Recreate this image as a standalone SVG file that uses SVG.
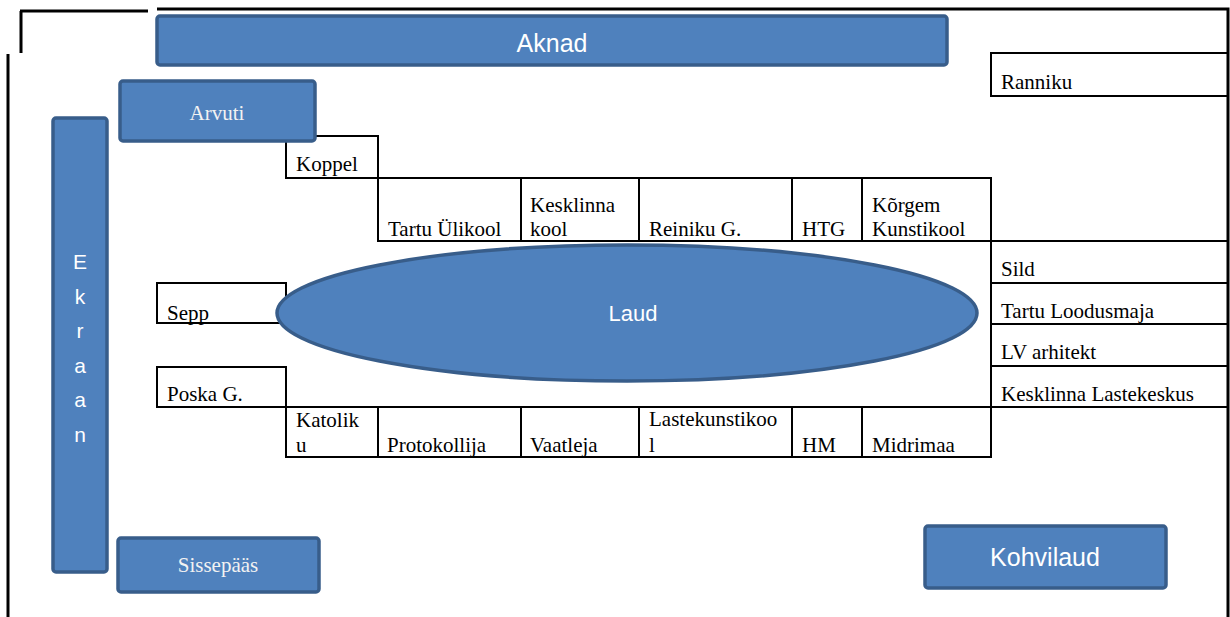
<svg xmlns="http://www.w3.org/2000/svg" width="1230" height="617" viewBox="0 0 1230 617">
<style>
.cell{fill:none;stroke:#000;stroke-width:2}
.frame{fill:none;stroke:#000;stroke-width:3}
.box{fill:#4F81BD;stroke:#385D8A;stroke-width:3.5}
.t{font-family:"Liberation Serif","Times New Roman",serif;font-size:21px;fill:#000}
.s{font-family:"Liberation Sans",Arial,sans-serif;fill:#fff;text-anchor:middle}
.sf{font-family:"Liberation Serif","Times New Roman",serif;font-size:21px;fill:#f2f2f2;text-anchor:middle}
</style>
<rect width="1230" height="617" fill="#fff"/>
<g id="frame">
<path class="frame" d="M20 11H148M21 11V53M8 54V617M157 9H1228V617"/>
</g>
<g id="cell-ranniku"><rect class="cell" x="991" y="53" width="237" height="43"/><text class="t" x="1001" y="89">Ranniku</text></g>
<g id="cell-koppel"><rect class="cell" x="286" y="136" width="92" height="42"/><text class="t" x="296" y="171">Koppel</text></g>
<g id="cell-tartu-ulikool"><rect class="cell" x="378" y="178" width="143" height="63"/><text class="t" x="388" y="236">Tartu Ülikool</text></g>
<g id="cell-kesklinna-kool"><rect class="cell" x="521" y="178" width="118" height="63"/><text class="t" x="530" y="212">Kesklinna</text><text class="t" x="530" y="236">kool</text></g>
<g id="cell-reiniku"><rect class="cell" x="639" y="178" width="153" height="63"/><text class="t" x="649" y="236">Reiniku G.</text></g>
<g id="cell-htg"><rect class="cell" x="792" y="178" width="70" height="63"/><text class="t" x="802" y="236">HTG</text></g>
<g id="cell-korgem"><rect class="cell" x="862" y="178" width="129" height="63"/><text class="t" x="872" y="212">Kõrgem</text><text class="t" x="872" y="236">Kunstikool</text></g>
<g id="cell-sild"><rect class="cell" x="991" y="241" width="237" height="42"/><text class="t" x="1001" y="276">Sild</text></g>
<g id="cell-loodusmaja"><rect class="cell" x="991" y="283" width="237" height="41"/><text class="t" x="1001" y="318">Tartu Loodusmaja</text></g>
<g id="cell-lv"><rect class="cell" x="991" y="324" width="237" height="42"/><text class="t" x="1001" y="359">LV arhitekt</text></g>
<g id="cell-lastekeskus"><rect class="cell" x="991" y="366" width="237" height="41"/><text class="t" x="1001" y="401">Kesklinna Lastekeskus</text></g>
<g id="cell-sepp"><rect class="cell" x="157" y="283" width="129" height="40"/><text class="t" x="167" y="320">Sepp</text></g>
<g id="cell-poska"><rect class="cell" x="157" y="367" width="129" height="40"/><text class="t" x="167" y="401">Poska G.</text></g>
<g id="cell-katoliku"><rect class="cell" x="286" y="407" width="92" height="50"/><text class="t" x="296" y="427">Katolik</text><text class="t" x="296" y="452">u</text></g>
<g id="cell-protokollija"><rect class="cell" x="378" y="407" width="143" height="50"/><text class="t" x="387" y="452">Protokollija</text></g>
<g id="cell-vaatleja"><rect class="cell" x="521" y="407" width="118" height="50"/><text class="t" x="530" y="452">Vaatleja</text></g>
<g id="cell-lastekunstikool"><rect class="cell" x="639" y="407" width="153" height="50"/><text class="t" x="649" y="426">Lastekunstikoo</text><text class="t" x="649" y="452">l</text></g>
<g id="cell-hm"><rect class="cell" x="792" y="407" width="70" height="50"/><text class="t" x="802" y="452">HM</text></g>
<g id="cell-midrimaa"><rect class="cell" x="862" y="407" width="129" height="50"/><text class="t" x="872" y="452">Midrimaa</text></g>
<g id="aknad"><rect class="box" x="157" y="16" width="790" height="49" rx="3"/><text class="s" x="552" y="52" font-size="25">Aknad</text></g>
<g id="arvuti"><rect class="box" x="120" y="81" width="195" height="60" rx="3"/><text class="sf" x="217" y="120">Arvuti</text></g>
<g id="ekraan"><rect class="box" x="53" y="118" width="54" height="454" rx="3"/>
<text class="s" x="80" y="269" font-size="21">E</text><text class="s" x="80" y="304" font-size="21">k</text><text class="s" x="80" y="338" font-size="21">r</text><text class="s" x="80" y="373" font-size="21">a</text><text class="s" x="80" y="407" font-size="21">a</text><text class="s" x="80" y="442" font-size="21">n</text></g>
<g id="sissepaas"><rect class="box" x="118" y="538" width="201" height="54" rx="3"/><text class="sf" x="218" y="572">Sissepääs</text></g>
<g id="kohvilaud"><rect class="box" x="925" y="526" width="241" height="62" rx="3"/><text class="s" x="1045" y="566" font-size="25">Kohvilaud</text></g>
<g id="laud"><ellipse class="box" cx="627" cy="313" rx="350" ry="68"/><text class="s" x="633" y="321" font-size="22">Laud</text></g>
<g id="connectors"></g>
</svg>
